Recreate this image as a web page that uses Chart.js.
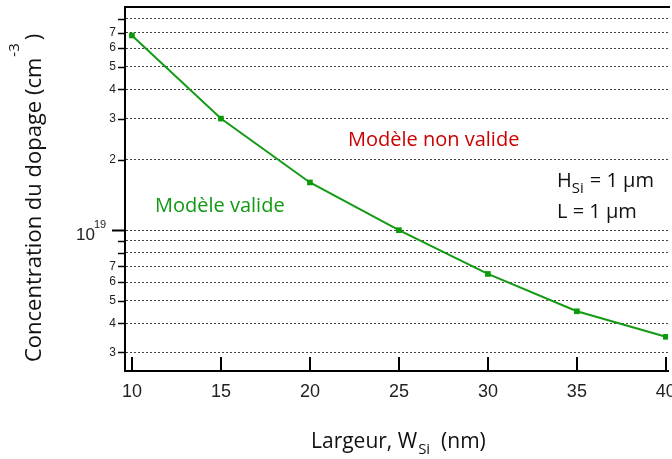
<!DOCTYPE html>
<html>
<head>
<meta charset="utf-8">
<script src="https://cdn.jsdelivr.net/npm/chart.js@4"></script>
<style>
  html, body { margin: 0; padding: 0; background: #fff; }
  #wrap { width: 672px; height: 459px; }
</style>
</head>
<body>
<div id="wrap"><canvas id="chartCanvas"></canvas></div>
<script>
// data
const widths = [10, 15, 20, 25, 30, 35, 40];
const doping = [6.8e19, 3.0e19, 1.6e19, 1.0e19, 6.5e18, 4.5e18, 3.5e18];
const xTicks = [10, 15, 20, 25, 30, 35, 40];
const yTicks = [3e18, 4e18, 5e18, 6e18, 7e18, 8e18, 9e18, 1e19,
                2e19, 3e19, 4e19, 5e19, 6e19, 7e19, 8e19, 9e19];
const yLabelled = [2, 3, 4, 5, 6, 7];

const TEXT_FONT = '"Open Sans", "Noto Sans", sans-serif';
const TICK_FONT = '"Liberation Sans", Arial, sans-serif';

// texts, sub/superscripts, tick marks, top frame
const extras = {
    id: 'extras',
    afterDraw(chart) {
        const ctx = chart.ctx;
        const x = chart.scales.x;
        const y = chart.scales.y;
        const area = chart.chartArea;
        ctx.save();

        // top frame line
        ctx.strokeStyle = '#000';
        ctx.lineWidth = 2;
        ctx.beginPath();
        ctx.moveTo(area.left - 1, area.top);
        ctx.lineTo(area.right + 2, area.top);
        ctx.stroke();

        // inward ticks on the x axis
        xTicks.forEach(v => {
            const px = Math.round(x.getPixelForValue(v));
            ctx.beginPath();
            ctx.moveTo(px, area.bottom);
            ctx.lineTo(px, area.bottom - 14);
            ctx.stroke();
        });

        // outward ticks on the y axis
        yTicks.forEach(v => {
            if (v === 9e19) return;
            const py = Math.round(y.getPixelForValue(v)) + 0.5;
            const major = v === 1e19;
            ctx.lineWidth = major ? 2 : 1.5;
            ctx.beginPath();
            ctx.moveTo(area.left - (major ? 13 : 7), py);
            ctx.lineTo(area.left, py);
            ctx.stroke();
        });

        // label at 10^19
        const p19 = Math.round(y.getPixelForValue(1e19));
        ctx.fillStyle = '#222';
        ctx.textBaseline = 'alphabetic';
        ctx.textAlign = 'left';
        ctx.font = '17px ' + TICK_FONT;
        ctx.fillText('10', 76, p19 + 10);
        ctx.font = '11px ' + TICK_FONT;
        ctx.fillText('19', 94, p19 - 2);

        // x title
        ctx.fillStyle = '#111';
        ctx.font = '21px ' + TEXT_FONT;
        let cx = 311;
        ctx.fillText('Largeur, W', cx, 448);
        cx += ctx.measureText('Largeur, W').width;
        ctx.font = '15px ' + TEXT_FONT;
        ctx.fillText('Si', cx + 1, 454);
        cx += ctx.measureText('Si').width + 1;
        ctx.font = '21px ' + TEXT_FONT;
        ctx.fillText('  (nm)', cx, 448);

        // y title
        ctx.save();
        ctx.translate(41, 362);
        ctx.rotate(-Math.PI / 2);
        ctx.font = '22px ' + TEXT_FONT;
        const main = 'Concentration du dopage (cm';
        ctx.fillText(main, 0, 0);
        let tx = ctx.measureText(main).width;
        ctx.font = '15px ' + TEXT_FONT;
        ctx.fillText('-3', tx + 1, -22);
        tx += ctx.measureText('-3').width + 4;
        ctx.font = '22px ' + TEXT_FONT;
        ctx.fillText(')', tx, 0);
        ctx.restore();

        // region labels
        ctx.font = '20px ' + TEXT_FONT;
        ctx.fillStyle = '#cc0000';
        ctx.fillText('Modèle non valide', 348, 146);
        ctx.fillStyle = '#119911';
        ctx.fillText('Modèle valide', 155, 212);

        // parameters
        ctx.fillStyle = '#111';
        ctx.font = '20px ' + TEXT_FONT;
        ctx.fillText('H', 557, 187);
        let hx = 557 + ctx.measureText('H').width;
        ctx.font = '15px ' + TEXT_FONT;
        ctx.fillText('Si', hx, 193);
        hx += ctx.measureText('Si').width + 3;
        ctx.font = '20px ' + TEXT_FONT;
        ctx.fillText('= 1 \u00b5m', hx + 3, 187);
        ctx.fillText('L = 1 \u00b5m', 557, 218);

        ctx.restore();
    }
};

const config = {
    type: 'line',
    data: {
        labels: widths,
        datasets: [{
            data: widths.map((w, i) => ({ x: w, y: doping[i] })),
            borderColor: '#149a14',
            borderWidth: 2,
            tension: 0,
            fill: false,
            pointStyle: 'rect',
            pointRadius: 4,
            pointBackgroundColor: '#0a9a0a',
            pointBorderColor: '#0a9a0a',
            pointBorderWidth: 0
        }]
    },
    options: {
        responsive: false,
        animation: false,
        devicePixelRatio: 1,
        layout: { padding: { top: 7, right: 2, left: 0, bottom: 0 } },
        plugins: {
            legend: { display: false },
            tooltip: { enabled: false },
            title: { display: false }
        },
        scales: {
            x: {
                type: 'linear',
                min: 9.61,
                max: 40.12,
                afterBuildTicks: scale => {
                    scale.ticks = xTicks.map(v => ({ value: v }));
                },
                afterFit: scale => {
                    scale.height = 88;
                    scale.paddingLeft = 0;
                    scale.paddingRight = 0;
                },
                grid: { display: false, drawTicks: false },
                border: { display: true, color: '#000', width: 2 },
                ticks: {
                    color: '#222',
                    padding: 10,
                    maxRotation: 0,
                    font: { family: TICK_FONT, size: 18 }
                }
            },
            y: {
                type: 'logarithmic',
                min: 2.5e18,
                max: 9e19,
                afterBuildTicks: scale => {
                    scale.ticks = yTicks.map(v => ({ value: v }));
                },
                afterFit: scale => {
                    scale.width = 125;
                    scale.paddingTop = 0;
                    scale.paddingBottom = 0;
                },
                border: { display: true, color: '#000', width: 2, dash: [2, 2] },
                grid: {
                    drawTicks: false,
                    color: ctx => ctx.tick && ctx.tick.value === 9e19 ? 'rgba(0,0,0,0)' : '#444',
                    lineWidth: 1
                },
                ticks: {
                    color: '#222',
                    padding: 9,
                    autoSkip: false,
                    font: { family: TICK_FONT, size: 12 },
                    callback: function (value) {
                        const m = value / Math.pow(10, Math.floor(Math.log10(value) + 1e-9));
                        const d = Math.round(m);
                        return yLabelled.includes(d) && Math.abs(m - d) < 1e-6 ? String(d) : '';
                    }
                }
            }
        }
    },
    plugins: [extras]
};

const canvas = document.getElementById('chartCanvas');
canvas.width = 672;
canvas.height = 459;
new Chart(canvas.getContext('2d'), config);
</script>
</body>
</html>
